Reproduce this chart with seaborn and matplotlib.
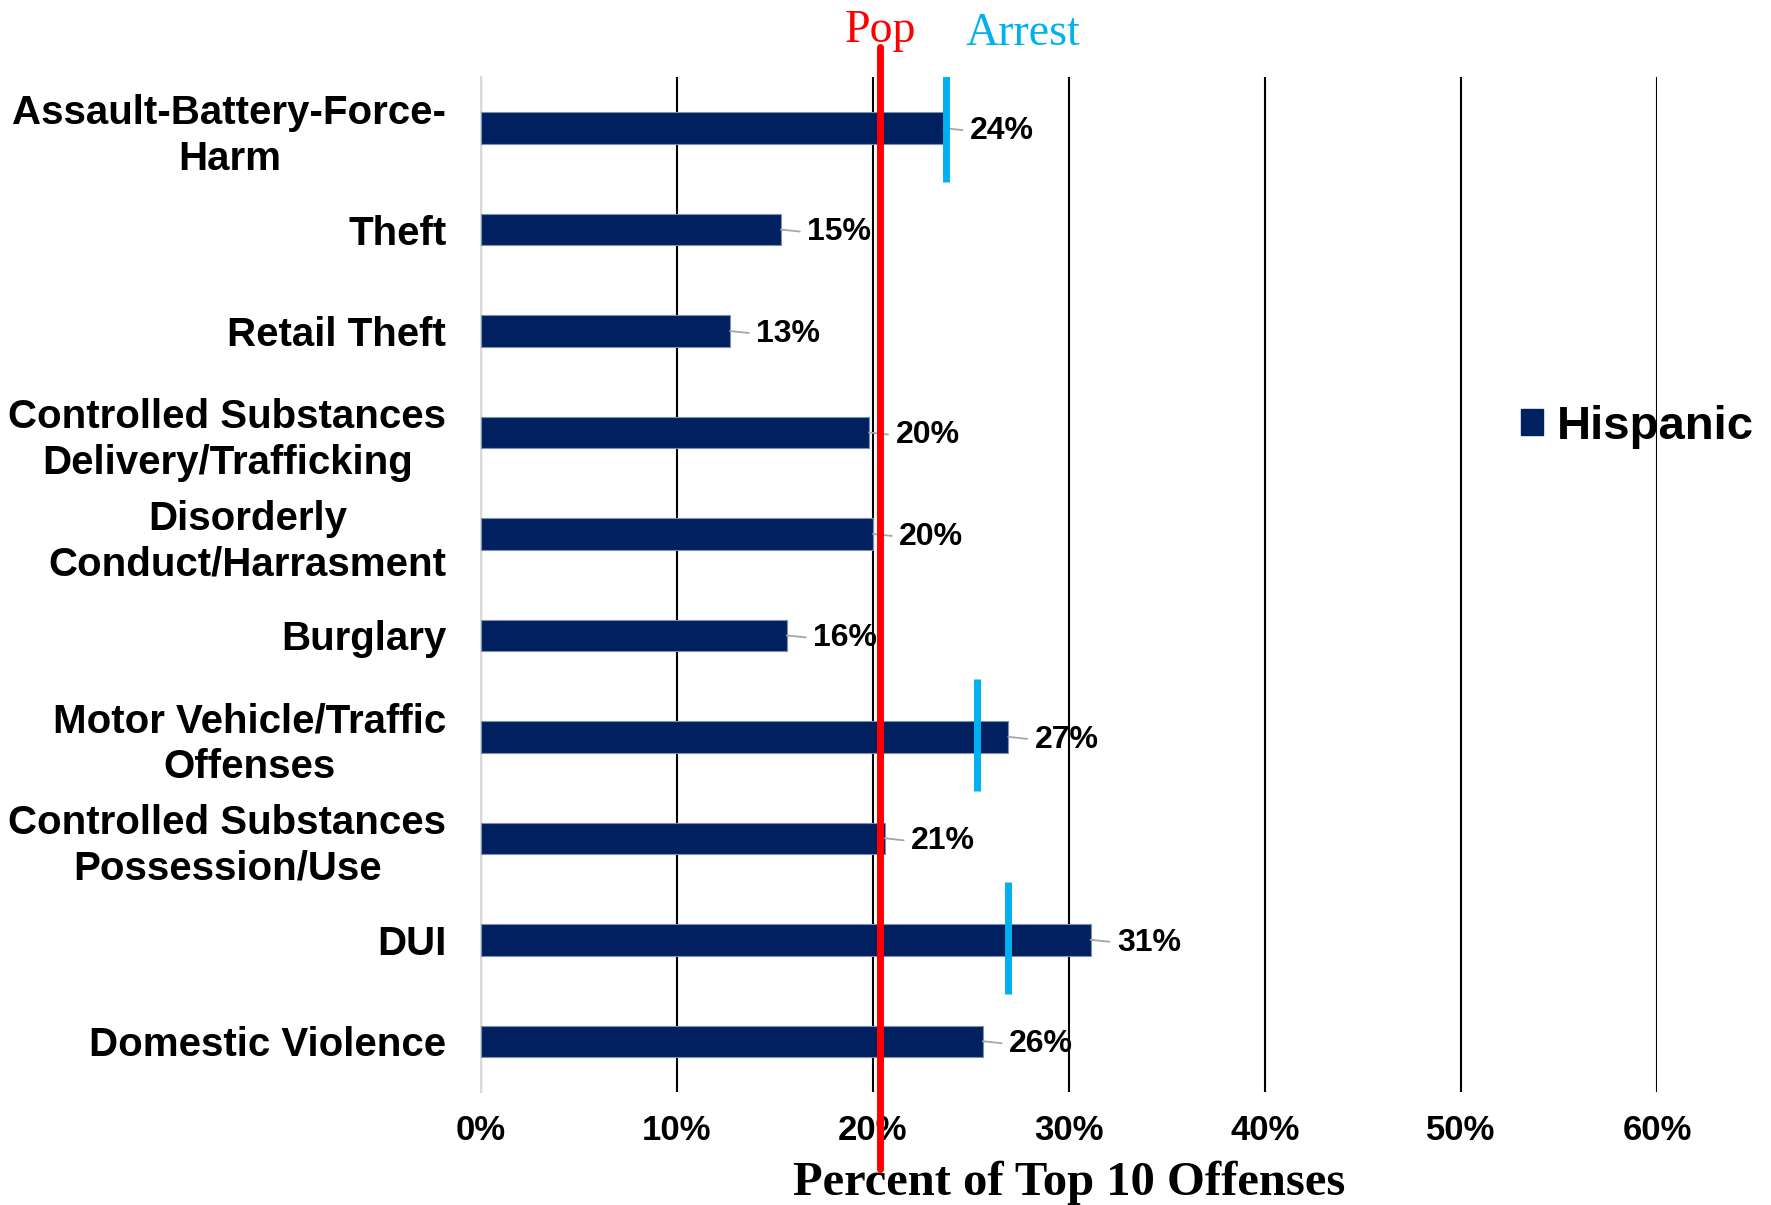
import numpy as np
import pandas as pd
import matplotlib
matplotlib.use("Agg")
import matplotlib.pyplot as plt
from matplotlib.patches import Patch
from matplotlib.ticker import PercentFormatter, MultipleLocator
import seaborn as sns

# ── Data ──────────────────────────────────────────────────────────────────────

offenses = [
    "Assault-Battery-Force-\nHarm",
    "Theft",
    "Retail Theft",
    "Controlled Substances\nDelivery/Trafficking",
    "Disorderly\nConduct/Harrasment",
    "Burglary",
    "Motor Vehicle/Traffic\nOffenses",
    "Controlled Substances\nPossession/Use",
    "DUI",
    "Domestic Violence",
]
hispanic_pct = [0.236, 0.153, 0.127, 0.198, 0.200, 0.156, 0.269, 0.206, 0.311, 0.256]
arrest_pct = [0.237, np.nan, np.nan, np.nan, np.nan, np.nan, 0.253, np.nan, 0.269, np.nan]
pop_pct = 0.2035
x_ticks = [0.0, 0.1, 0.2, 0.3, 0.4, 0.5, 0.6]

NAVY = "#002060"
RED = "#FF0000"
LIGHT_BLUE = "#00B0F0"

df = pd.DataFrame({"offense": offenses, "pct": hispanic_pct, "arrest": arrest_pct})

# ── Figure ────────────────────────────────────────────────────────────────────

sns.set_style("white")
plt.rcParams["font.family"] = ["Liberation Sans", "DejaVu Sans"]
for key in ["text.color", "axes.labelcolor", "xtick.color", "ytick.color"]:
    plt.rcParams[key] = "black"

fig = plt.figure(figsize=(17.71, 12.05), dpi=100)
ax = fig.add_axes([0.2716, 0.0938, 0.664, 0.842])

sns.barplot(
    data=df, x="pct", y="offense", orient="h",
    color=NAVY, saturation=1, width=0.31,
    edgecolor="#7F8FB0", linewidth=0.8, ax=ax, zorder=3,
)

ax.set_xlim(x_ticks[0], x_ticks[-1])
ax.set_ylim(len(offenses) - 0.5, -0.5)
ax.xaxis.set_major_locator(MultipleLocator(0.1))
ax.xaxis.set_major_formatter(PercentFormatter(1.0, decimals=0))
ax.grid(axis="x", color="black", linewidth=1.5, zorder=0)
ax.grid(axis="y", visible=False)
ax.set_axisbelow(True)
for side in ["top", "right", "bottom"]:
    ax.spines[side].set_visible(False)
ax.spines["left"].set_color("#D9D9D9")
ax.spines["left"].set_linewidth(1.5)

ax.tick_params(axis="x", length=0, pad=16)
ax.tick_params(axis="y", length=0, pad=25)
for lbl in ax.get_xticklabels():
    lbl.set_family(["Liberation Sans Narrow", "Liberation Sans"])
    lbl.set_fontsize(25)
    lbl.set_fontweight("bold")
for lbl in ax.get_yticklabels():
    lbl.set_fontsize(29)
    lbl.set_fontweight("bold")
    lbl.set_multialignment("center")
    lbl.set_linespacing(1.25)

ax.set_ylabel("")
ax.set_xlabel("Percent of Top 10 Offenses", family=["Liberation Serif", "DejaVu Serif"],
              fontsize=35, fontweight="bold", labelpad=10)

# value labels with leader lines
for i, v in enumerate(df["pct"]):
    ax.annotate(
        f"{v * 100:.0f}%", xy=(v, i), xytext=(19, -2), textcoords="offset points",
        ha="left", va="center", fontsize=23, fontweight="bold", zorder=4,
        arrowprops=dict(arrowstyle="-", color="#A6A6A6", lw=1.3,
                        shrinkA=3, shrinkB=0, relpos=(0, 0.5)),
    )

# arrest markers
for i, a in enumerate(df["arrest"]):
    if not np.isnan(a):
        ax.vlines(a, i - 0.57, i + 0.53, color=LIGHT_BLUE, linewidth=5, zorder=5)

# population line
ax.axvline(pop_pct, ymin=-0.076, ymax=1.03, color=RED, linewidth=5,
           clip_on=False, zorder=6)

fig.text(880 / 1771, 0.965, "Pop", color=RED, ha="center", va="baseline",
         family=["Liberation Serif", "DejaVu Serif"], fontsize=33)
fig.text(1023 / 1771, 0.963, "Arrest", color=LIGHT_BLUE, ha="center", va="baseline",
         family=["Liberation Serif", "DejaVu Serif"], fontsize=33)

fig.legend(
    handles=[Patch(facecolor=NAVY, edgecolor=NAVY)], labels=["Hispanic"],
    loc="center left", bbox_to_anchor=(1521 / 1771, 0.646), frameon=False,
    prop=dict(size=34, weight="bold"), handlelength=0.47, handleheight=0.47,
    handletextpad=0.3, borderpad=0, borderaxespad=0,
)

fig.savefig("out.png", dpi=100)
plt.close(fig)
